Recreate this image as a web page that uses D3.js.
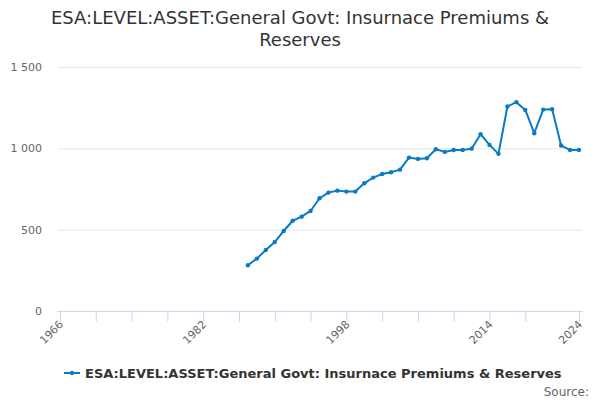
<!DOCTYPE html>
<html>
<head>
<meta charset="utf-8">
<script src="https://cdn.jsdelivr.net/npm/d3@7"></script>
<style>
  body { margin: 0; background: #fff; }
  text { font-family: "DejaVu Sans", Verdana, sans-serif; }
  .grid line { stroke: #e6e6e6; }
  .y-label { fill: #666; font-size: 11px; }
  .x-label { fill: #666; font-size: 11px; }
</style>
</head>
<body>
<div id="wrapper"></div>
<script>
const years = [1987, 1988, 1989, 1990, 1991, 1992, 1993, 1994, 1995, 1996,
  1997, 1998, 1999, 2000, 2001, 2002, 2003, 2004, 2005, 2006,
  2007, 2008, 2009, 2010, 2011, 2012, 2013, 2014, 2015, 2016,
  2017, 2018, 2019, 2020, 2021, 2022, 2023, 2024]
const values = [281, 322, 375, 424, 492, 555, 580, 615, 693, 728,
  740, 734, 734, 785, 820, 842, 853, 869, 943, 935,
  939, 994, 978, 990, 990, 998, 1087, 1021, 966, 1257,
  1284, 1236, 1093, 1238, 1240, 1017, 990, 990]
const xTicks = [1966, 1970, 1974, 1978, 1982, 1986, 1990, 1994, 1998, 2002, 2006, 2010, 2014, 2018, 2024]
const xLabels = [1966, 1982, 1998, 2014, 2024]
const yTicks = [0, 500, 1000, 1500]
const titleLines = ["ESA:LEVEL:ASSET:General Govt: Insurnace Premiums &", "Reserves"]
const seriesName = "ESA:LEVEL:ASSET:General Govt: Insurnace Premiums & Reserves"

const dataset = years.map((y, i) => ({ year: y, value: values[i] }))

let dimensions = {
  width: 600,
  height: 400,
  margin: { top: 67, right: 21, bottom: 89, left: 60 },
}
dimensions.boundedWidth = dimensions.width - dimensions.margin.left - dimensions.margin.right
dimensions.boundedHeight = dimensions.height - dimensions.margin.top - dimensions.margin.bottom

const wrapper = d3.select("#wrapper")
  .append("svg")
  .attr("width", dimensions.width)
  .attr("height", dimensions.height)

const bounds = wrapper.append("g")
  .attr("transform", `translate(${dimensions.margin.left},${dimensions.margin.top})`)

const xScale = d3.scaleLinear()
  .domain([1966, 2024])
  .range([0, dimensions.boundedWidth])

const yScale = d3.scaleLinear()
  .domain([0, 1500])
  .range([dimensions.boundedHeight, 0])

// title
wrapper.append("text")
  .attr("x", 300)
  .attr("y", 24)
  .attr("text-anchor", "middle")
  .style("font-size", "18px")
  .style("fill", "#333")
  .selectAll("tspan")
  .data(titleLines)
  .enter().append("tspan")
  .attr("x", 300)
  .attr("dy", (d, i) => i ? 22 : 0)
  .text(d => d)

// gridlines
bounds.append("g")
  .attr("class", "grid")
  .selectAll("line")
  .data(yTicks.filter(d => d > 0))
  .enter().append("line")
  .attr("x1", -2)
  .attr("x2", dimensions.boundedWidth + 3)
  .attr("y1", d => yScale(d) + 0.5)
  .attr("y2", d => yScale(d) + 0.5)

bounds.append("g")
  .selectAll("text")
  .data(yTicks)
  .enter().append("text")
  .attr("class", "y-label")
  .attr("x", -18)
  .attr("y", d => yScale(d) + 4)
  .attr("text-anchor", "end")
  .text(d => d3.format(",")(d).replace(",", " "))

// x axis
const xAxis = d3.axisBottom(xScale)
  .tickValues(xTicks)
  .tickSize(10)
  .tickFormat("")

const xAxisGroup = bounds.append("g")
  .attr("transform", `translate(0,${dimensions.boundedHeight + 0.5})`)
  .call(xAxis)
xAxisGroup.select(".domain")
  .attr("d", `M-3,0H${dimensions.boundedWidth + 4}`)
  .attr("stroke", "#ccd6eb")
xAxisGroup.selectAll(".tick line").attr("stroke", "#ccd6eb")

bounds.append("g")
  .selectAll("text")
  .data(xLabels)
  .enter().append("text")
  .attr("class", "x-label")
  .attr("text-anchor", "end")
  .attr("transform", d => `translate(${xScale(d) + 4},${dimensions.boundedHeight + 14}) rotate(-45)`)
  .text(d => d)

// line
const lineGenerator = d3.line()
  .x(d => xScale(d.year))
  .y(d => yScale(d.value))

bounds.append("path")
  .attr("d", lineGenerator(dataset))
  .attr("fill", "none")
  .attr("stroke", "#0a7bc2")
  .attr("stroke-width", 2)
  .attr("stroke-linejoin", "round")

bounds.selectAll(".dot")
  .data(dataset)
  .enter().append("circle")
  .attr("class", "dot")
  .attr("cx", d => xScale(d.year))
  .attr("cy", d => yScale(d.value))
  .attr("r", 2.2)
  .attr("fill", "#0a7bc2")

// legend
const legendGroup = wrapper.append("g")
  .attr("transform", "translate(64,373)")
legendGroup.append("line")
  .attr("x1", 0).attr("x2", 16)
  .attr("stroke", "#0a7bc2")
  .attr("stroke-width", 2)
legendGroup.append("circle")
  .attr("cx", 8)
  .attr("r", 2.2)
  .attr("fill", "#0a7bc2")
legendGroup.append("text")
  .attr("x", 21)
  .attr("y", 5)
  .style("font-size", "13px")
  .style("font-weight", "bold")
  .style("fill", "#333")
  .text(seriesName)

wrapper.append("text")
  .attr("x", 589)
  .attr("y", 396)
  .attr("text-anchor", "end")
  .style("font-size", "12px")
  .style("fill", "#666")
  .text("Source:")
</script>
</body>
</html>
